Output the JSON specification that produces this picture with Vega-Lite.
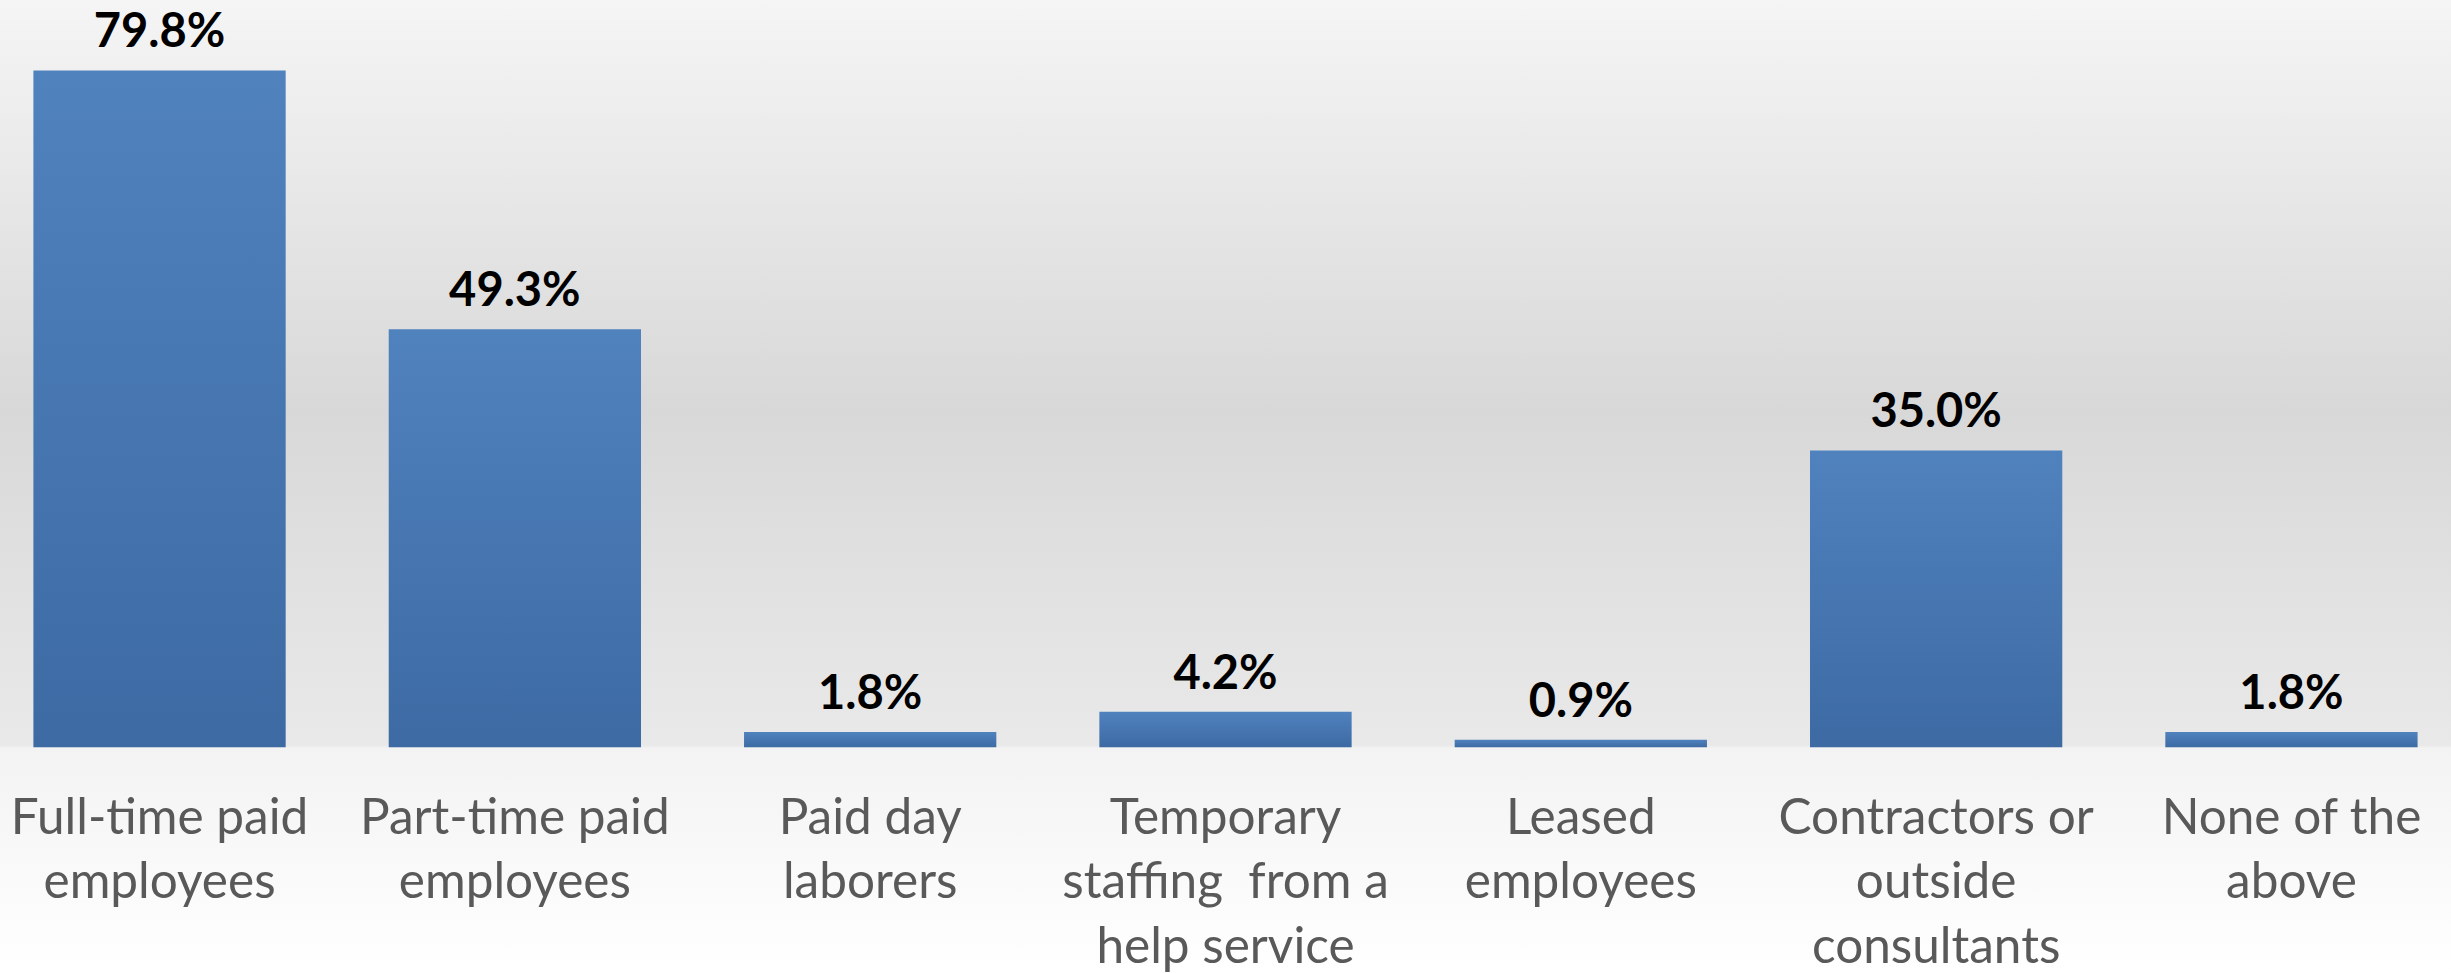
{
  "$schema": "https://vega.github.io/schema/vega-lite/v6.json",
  "width": 2451,
  "height": 973,
  "autosize": {"type": "none"},
  "padding": 0,
  "background": "#ffffff",
  "config": {
    "view": {
      "stroke": null,
      "fill": {
        "gradient": "linear",
        "x1": 0, "y1": 0, "x2": 0, "y2": 1,
        "stops": [
          {"offset": 0, "color": "#f5f5f5"},
          {"offset": 0.42, "color": "#d8d8d8"},
          {"offset": 0.766, "color": "#e9e9e9"},
          {"offset": 0.769, "color": "#f3f3f3"},
          {"offset": 1, "color": "#ffffff"}
        ]
      }
    }
  },
  "data": {
    "values": [
      {"category": "Full-time paid\nemployees", "value": 0.798},
      {"category": "Part-time paid\nemployees", "value": 0.493},
      {"category": "Paid day\nlaborers", "value": 0.018},
      {"category": "Temporary\nstaffing\u00a0 from a\nhelp service", "value": 0.042},
      {"category": "Leased\nemployees", "value": 0.009},
      {"category": "Contractors or\noutside\nconsultants", "value": 0.35},
      {"category": "None of the\nabove", "value": 0.018}
    ]
  },
  "encoding": {
    "x": {
      "field": "category",
      "type": "nominal",
      "sort": null,
      "scale": {"paddingInner": 0.29, "paddingOuter": 0.094},
      "axis": {
        "title": null,
        "domain": false,
        "ticks": false,
        "labelAngle": 0,
        "labelFont": "Lato",
        "labelFontSize": 49.5,
        "labelColor": "#595959",
        "labelLineHeight": 64.5,
        "labelPadding": 47,
        "labelLimit": 0,
        "labelOverlap": false,
        "labelBound": false,
        "labelExpr": "split(datum.label, '\\n')",
        "offset": -226
      }
    },
    "y": {
      "field": "value",
      "type": "quantitative",
      "scale": {"domain": [-0.266, 0.881], "nice": false, "zero": false},
      "axis": null
    }
  },
  "layer": [
    {
      "mark": {
        "type": "bar",
        "color": {
          "gradient": "linear",
          "x1": 0, "y1": 0, "x2": 0, "y2": 1,
          "stops": [
            {"offset": 0, "color": "#5082be"},
            {"offset": 1, "color": "#3d6aa3"}
          ]
        }
      }
    },
    {
      "mark": {
        "type": "text",
        "font": "Lato",
        "fontWeight": "bold",
        "fontSize": 47,
        "color": "#000000",
        "baseline": "alphabetic",
        "dy": -23
      },
      "encoding": {
        "text": {"field": "value", "type": "quantitative", "format": ".1%"}
      }
    }
  ]
}
